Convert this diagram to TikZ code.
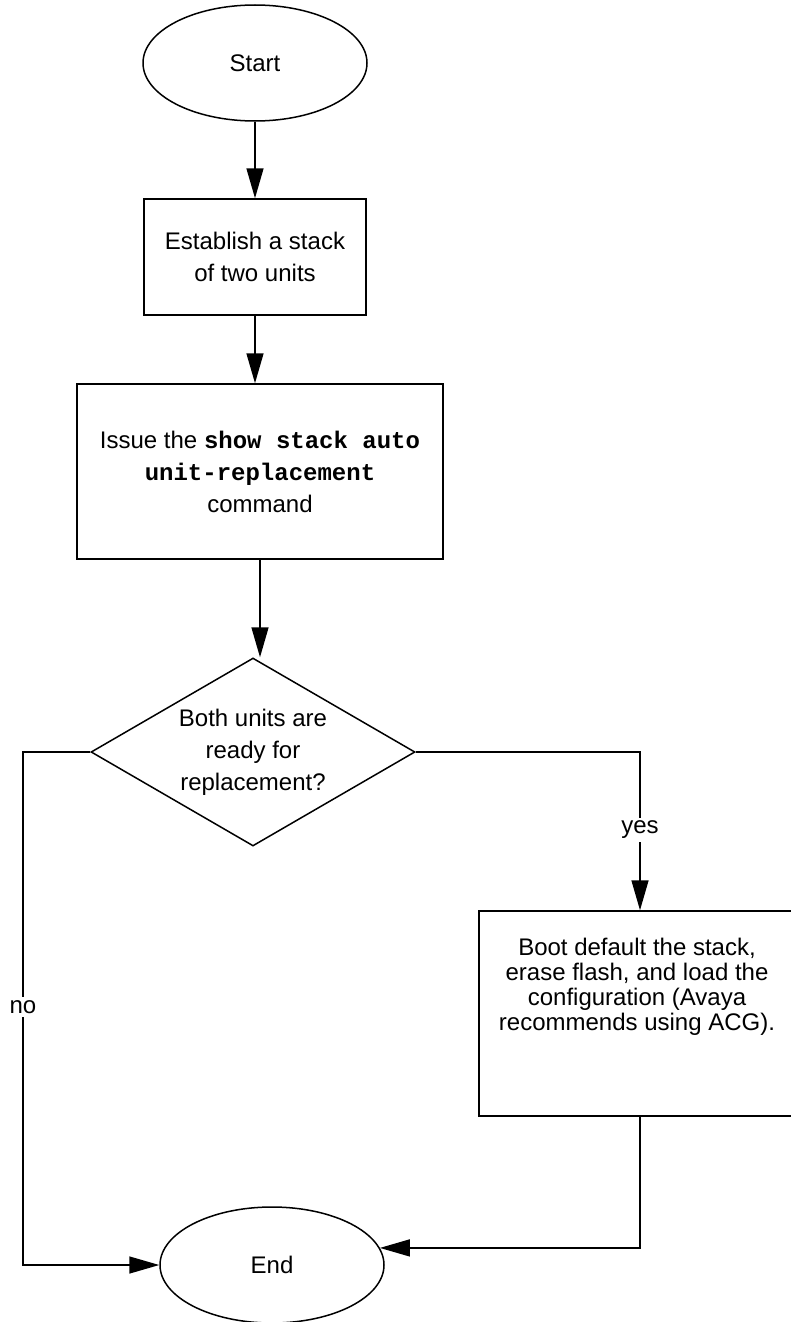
\documentclass[tikz,border=0pt]{standalone}
\usepackage{fontspec}
\setmainfont{Liberation Sans}
\setmonofont{Liberation Mono}
\usetikzlibrary{shapes.geometric,arrows.meta}
\begin{document}
\begin{tikzpicture}[x=1pt,y=-1pt,
  every node/.style={font=\fontsize{24}{32}\selectfont},
  ln/.style={line width=1.5pt, draw=black},
  arr/.style={ln, -{Triangle[length=30pt,width=17pt]}},
  term/.style={ellipse, ln, minimum width=224pt, minimum height=116pt, inner sep=0pt},
  procbox/.style={rectangle, ln, inner sep=0pt},
  decision/.style={diamond, ln, inner sep=0pt},
  lbl/.style={fill=white, inner sep=3pt}]
\useasboundingbox (0,0) rectangle (791,1322);

\node[term] (start) at (255,63) {Start};
\node[procbox, minimum width=222pt, minimum height=116pt, align=center] (box1) at (255,257) {Establish a stack\\of two units};
\node[procbox, minimum width=366pt, minimum height=175pt, align=center] (box2) at (260,471.5) {Issue the \texttt{\bfseries show stack auto}\\\texttt{\bfseries unit-replacement}\\command};
\node[decision, minimum width=324pt, minimum height=188pt] (dia) at (253,752) {};
\node[align=center] (diatext) at (253,752) {Both units are\\ready for\\replacement?};
\node[procbox, minimum width=322pt, minimum height=205pt] (box3) at (640,1013.5) {};
\node[align=center, font=\fontsize{24}{25}\selectfont] (box3text) at (637,987) {Boot default the stack,\\erase flash, and load the\\configuration (Avaya\\recommends using ACG).};
\node[term] (end) at (272,1265) {End};

\coordinate (nocorner) at (23,752);

\draw[arr] (start) -- (box1);
\draw[arr] (box1.south) -- (box1.south |- box2.north);
\draw[arr] (box2.south) -- (box2.south |- dia.north);
\draw[arr] (dia.east) -| (box3.north);
\draw[arr] (dia.west) -- (nocorner) |- (end.west);
\draw[arr] (box3.south) |- (end.9);

\node[lbl] (yeslbl) at (640,830) {yes};
\node[lbl] (nolbl) at (23,1007) {no};
\end{tikzpicture}
\end{document}
